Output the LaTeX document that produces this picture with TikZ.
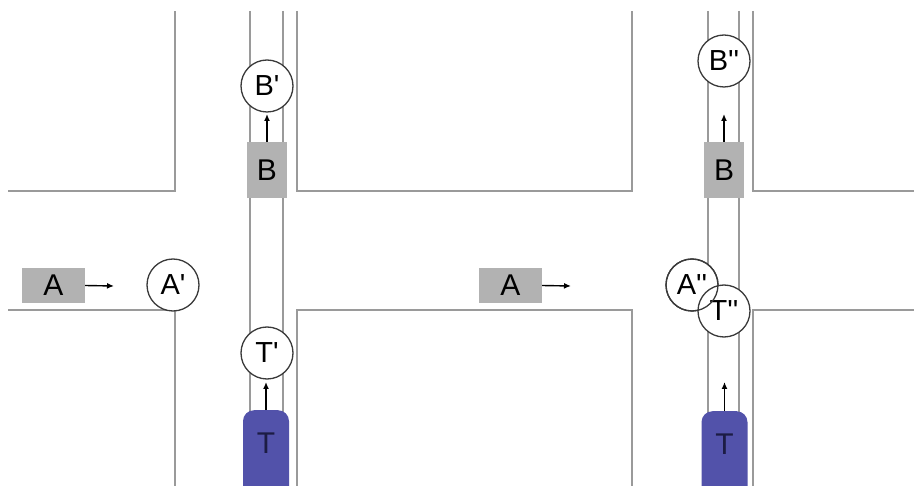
\documentclass[tikz,border=0pt]{standalone}
\usepackage{fontspec}
\setmainfont{Liberation Sans}
\usetikzlibrary{arrows.meta}
\definecolor{streetgray}{HTML}{9A9A9A}
\definecolor{boxgray}{HTML}{B2B2B2}
\definecolor{carblue}{HTML}{5252AA}
\definecolor{cartext}{HTML}{1C1C44}
\definecolor{ringgray}{HTML}{3A3A3A}
\newcommand{\tick}{\textquotesingle}
\tikzset{
  street/.style={draw=streetgray, line width=2pt},
  lane/.style={draw=streetgray, line width=1.6pt},
  vehbox/.style={fill=boxgray, draw=none, inner sep=0pt, font=\fontsize{30}{34}\selectfont},
  futurepos/.style={circle, fill=white, draw=ringgray, line width=1.3pt, minimum size=52pt,
    inner sep=0pt, font=\fontsize{29}{33}\selectfont},
  ringonly/.style={draw=ringgray, line width=1.3pt},
  truck/.style={fill=carblue, rounded corners=11pt, anchor=north, minimum width=46pt,
    minimum height=110pt, inner sep=0pt, text=cartext, text height=21pt, text depth=44pt,
    font=\fontsize{30}{34}\selectfont},
  move/.style={-{Latex[length=7pt,width=6pt]}, line width=1.4pt, black},
}
\begin{document}
\begin{tikzpicture}[x=1pt, y=-1pt]
\useasboundingbox (0,0) rectangle (914,486);
\clip (0,0) rectangle (914,486);

% lane markings of the two vertical streets
\draw[lane] (250,11) -- (250,486);
\draw[lane] (283,11) -- (283,486);
\draw[lane] (708,11) -- (708,486);
\draw[lane] (739,11) -- (739,486);

% block outlines
\draw[street] (8,191) -- (175,191) -- (175,11);
\draw[street] (8,310) -- (175,310) -- (175,486);
\draw[street] (297,11) -- (297,191) -- (632,191) -- (632,11);
\draw[street] (297,486) -- (297,310) -- (632,310) -- (632,486);
\draw[street] (753,11) -- (753,191) -- (914,191);
\draw[street] (753,486) -- (753,310) -- (914,310);

% ---- first situation ----
\node[vehbox, minimum width=63pt, minimum height=35pt] (A1) at (53.5,285.5) {A};
\node[vehbox, minimum width=40pt, minimum height=56pt] (B1) at (267,170) {B};
\node[truck] (T1) at (266,410) {T};
\node[futurepos] (A1p) at (173,285) {A\tick};
\node[futurepos] (B1p) at (267,86) {B\tick};
\node[futurepos] (T1p) at (267,353) {T\tick};
\coordinate (A1e) at (114,286);
\coordinate (B1e) at (267,114);
\coordinate (T1e) at (266,382);
\draw[move] (A1.east) -- (A1e);
\draw[move] (B1.north) -- (B1e);
\draw[move] (T1.north) -- (T1e);

% ---- second situation ----
\node[vehbox, minimum width=63pt, minimum height=35pt] (A2) at (510.5,285.5) {A};
\node[vehbox, minimum width=40pt, minimum height=56pt] (B2) at (724,170) {B};
\node[truck] (T2) at (724.5,411) {T};
\node[futurepos] (B2p) at (724,61) {B\tick\tick};
\node[futurepos] (A2p) at (692,285) {A\tick\tick};
\node[futurepos] (T2p) at (724,311) {T\tick\tick};
\draw[ringonly] (A2p.center) circle[radius=26pt];
\coordinate (A2e) at (571,286);
\coordinate (B2e) at (724,114);
\coordinate (T2e) at (724.5,382);
\draw[move] (A2.east) -- (A2e);
\draw[move] (B2.north) -- (B2e);
\draw[move] (T2.north) -- (T2e);
\end{tikzpicture}
\end{document}
